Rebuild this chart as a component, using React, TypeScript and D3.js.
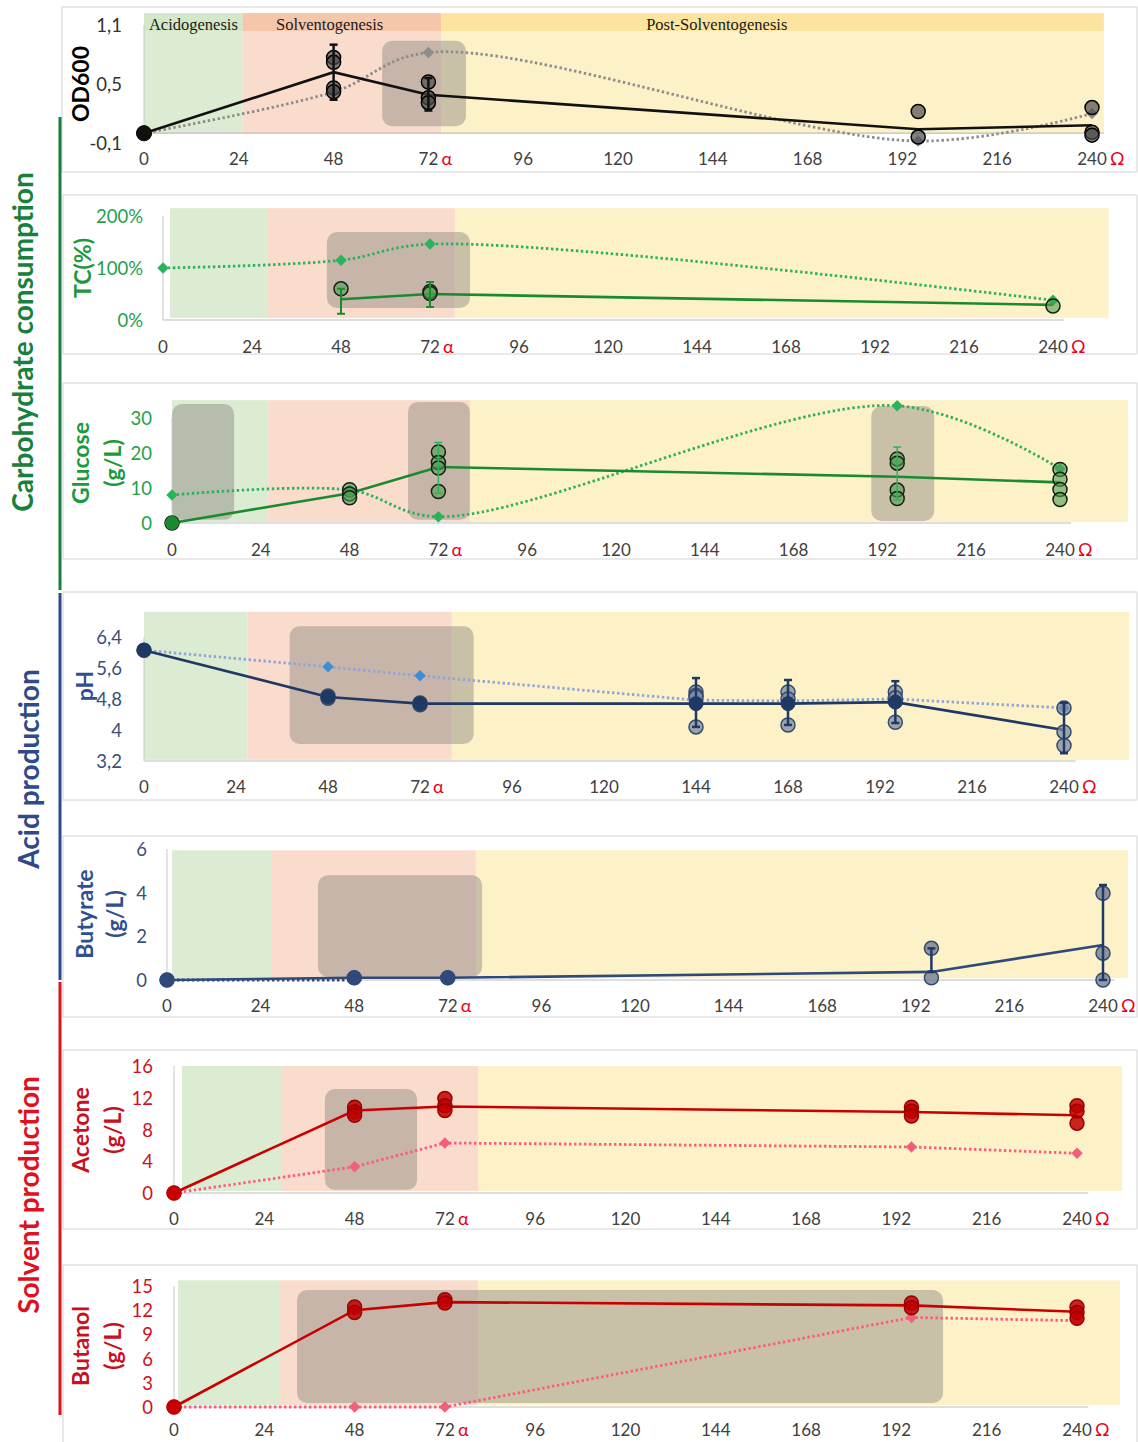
import React from "react";
import * as d3 from "d3";

// ---------------- DATA ----------------
const hourTicks = [0, 24, 48, 72, 96, 120, 144, 168, 192, 216, 240];
const phaseNames = ["Acidogenesis", "Solventogenesis", "Post-Solventogenesis"];
const phaseLabelHours = [12.5, 47, 145];
const groupNames = ["Carbohydrate consumption", "Acid production", "Solvent production"];

// OD600
const odHours = [0, 48, 72, 196, 240];
const odMean = [0, 0.62, 0.39, 0.04, 0.08];
const odRef = [0, 0.42, 0.82, -0.08, 0.2];
const odRepHours = [0, 48, 48, 48, 48, 72, 72, 72, 196, 196, 240, 240, 240];
const odReps = [0, 0.77, 0.72, 0.46, 0.42, 0.52, 0.36, 0.31, 0.22, -0.04, 0.26, 0.01, -0.02];
const odErrHours = [48, 72];
const odErrLow = [0.34, 0.23];
const odErrHigh = [0.9, 0.56];
const odTicks = [-0.1, 0.5, 1.1];

// Total carbohydrate (%)
const tcMeanHours = [48, 72, 240];
const tcMean = [40, 50, 29];
const tcRefHours = [0, 48, 72, 240];
const tcRef = [100, 115, 146, 38];
const tcRepHours = [48, 72, 72, 240];
const tcReps = [60, 55, 51, 27];
const tcErrHours = [48, 72];
const tcErrLow = [12, 25];
const tcErrHigh = [60, 73];
const tcTicks = [0, 100, 200];

// Glucose (g/L)
const glcHours = [0, 48, 72, 196, 240];
const glcMean = [0, 8.5, 16, 13.2, 11.6];
const glcRef = [8, 9.4, 1.8, 33.5, 15.5];
const glcRepHours = [0, 48, 48, 48, 72, 72, 72, 72, 196, 196, 196, 196, 240, 240, 240, 240];
const glcReps = [0, 9.5, 8.3, 7.2, 20.3, 17.3, 15.7, 9, 18.3, 17.1, 9.4, 7, 15.3, 12.5, 9.6, 6.7];
const glcErrHours = [72, 196];
const glcErrLow = [8.5, 6.6];
const glcErrHigh = [23, 21.7];
const glcTicks = [0, 10, 20, 30];

// pH
const phHours = [0, 48, 72, 144, 168, 196, 240];
const phMean = [6.06, 4.85, 4.68, 4.68, 4.68, 4.72, 4.0];
const phRef = [6.06, 5.63, 5.4, 4.77, 4.75, 4.8, 4.57];
const phRepHours = [0, 48, 48, 72, 72, 144, 144, 144, 144, 168, 168, 168, 196, 196, 196, 240, 240, 240];
const phReps = [6.06, 4.88, 4.82, 4.7, 4.65, 4.98, 4.9, 4.85, 4.08, 4.98, 4.8, 4.13, 4.98, 4.83, 4.2, 4.57, 3.95, 3.6];
const phErrHours = [144, 168, 196, 240];
const phErrLow = [4.08, 4.13, 4.18, 3.4];
const phErrHigh = [5.34, 5.29, 5.26, 4.7];
const phTicks = [3.2, 4, 4.8, 5.6, 6.4];

// Butyrate (g/L)
const buHours = [0, 48, 72, 196, 240];
const buMean = [0, 0.1, 0.1, 0.37, 1.6];
const buRefHours = [0, 48];
const buRef = [0, 0];
const buRepHours = [0, 48, 72, 196, 196, 240, 240, 240];
const buReps = [0, 0.1, 0.1, 1.45, 0.1, 3.97, 1.23, 0];
const buErrHours = [196, 240];
const buErrLow = [0.37, 0];
const buErrHigh = [1.45, 4.35];
const buTicks = [0, 2, 4, 6];

// Acetone (g/L)
const acHours = [0, 48, 72, 196, 240];
const acMean = [0, 10.4, 10.9, 10.2, 9.8];
const acRef = [0, 3.3, 6.3, 5.8, 5.0];
const acRepHours = [0, 48, 48, 48, 72, 72, 72, 196, 196, 196, 240, 240, 240];
const acReps = [0, 10.8, 10.2, 9.8, 11.9, 11, 10.4, 10.8, 10.3, 9.7, 11, 10.3, 8.8];
const acTicks = [0, 4, 8, 12, 16];

// Butanol (g/L)
const btHours = [0, 48, 72, 196, 240];
const btMean = [0, 12, 13, 12.6, 11.8];
const btRef = [0, 0, 0, 11.1, 10.7];
const btRepHours = [0, 48, 48, 72, 72, 196, 196, 240, 240, 240];
const btReps = [0, 12.4, 11.7, 13.3, 12.9, 12.9, 12.3, 12.4, 11.7, 11];
const btTicks = [0, 3, 6, 9, 12, 15];

// ---------------- STYLE / LAYOUT ----------------
const FONT = "Lato, 'Open Sans', 'DejaVu Sans', sans-serif";
const SERIF = "'Liberation Serif', 'DejaVu Serif', serif";
const BAND_GREEN = "#dcecd2";
const BAND_SALMON = "#f9dccb";
const BAND_YELLOW = "#fdf1c8";

type Style = {
  mean: string;
  ref: string;
  diamond: string;
  repFill: string;
  repOpacity: number;
  repStroke: string;
  err: string;
  errWidth: number;
  tick: string;
  title: string;
};

type Panel = {
  frame: [number, number, number, number];
  xPx: [number, number];
  yDomain: [number, number];
  yPx: [number, number];
  axisValue: number;
  yTicks: number[];
  fmt: (v: number) => string;
  tickRight: number;
  xLabelY: number;
  title: string[];
  titleX: number[];
  titleY: number;
  bands: [number, number, number, number];
  bandV: [number, number];
  header?: boolean;
  boxes: [number, number, number, number][];
  meanT: number[];
  meanV: number[];
  refT: number[];
  refV: number[];
  smooth: boolean;
  diamonds: boolean;
  repT: number[];
  repV: number[];
  errT: number[];
  errLo: number[];
  errHi: number[];
  meanMarkers: number[];
  meanMarkerR: number;
  s: Style;
};

const comma = (v: number) => String(v).replace(".", ",");
const pct = (v: number) => `${v}%`;
const plain = (v: number) => String(v);

const greenStyle: Style = {
  mean: "#1b8a2e", ref: "#2bb35c", diamond: "#2bb35c", repFill: "#4f9f4f", repOpacity: 0.6,
  repStroke: "#152015", err: "#1b8a2e", errWidth: 2, tick: "#22a14a", title: "#1a9a3a",
};
const navyStyle: Style = {
  mean: "#203864", ref: "#8ea6d8", diamond: "#3e8ed6", repFill: "#7b8aa3", repOpacity: 0.75,
  repStroke: "#344a70", err: "#203864", errWidth: 2.5, tick: "#3b4f7a", title: "#2f4f8f",
};
const redStyle: Style = {
  mean: "#c80000", ref: "#ff5a78", diamond: "#f25f7c", repFill: "#c00000", repOpacity: 0.85,
  repStroke: "#9a0000", err: "#c80000", errWidth: 2, tick: "#d01020", title: "#c8101e",
};

const panels: Panel[] = [
  {
    frame: [62, 7, 1075, 165], xPx: [144, 1092], yDomain: [-0.1, 1.1], yPx: [143, 25], axisValue: 0,
    yTicks: odTicks, fmt: comma, tickRight: 122, xLabelY: 158, title: ["OD600"], titleX: [80], titleY: 84,
    bands: [0, 25, 75.2, 243], bandV: [1.22, 0], header: true, boxes: [[60.3, 81.5, 0.94, 0.07]],
    meanT: odHours, meanV: odMean, refT: odHours, refV: odRef, smooth: true, diamonds: true,
    repT: odRepHours, repV: odReps, errT: odErrHours, errLo: odErrLow, errHi: odErrHigh,
    meanMarkers: [0], meanMarkerR: 7.5,
    s: { mean: "#111", ref: "#8c8c8c", diamond: "#8c8c8c", repFill: "#4d4d4d", repOpacity: 0.7, repStroke: "#000",
      err: "#111", errWidth: 2.5, tick: "#333", title: "#000" },
  },
  {
    frame: [63, 195, 1074, 159], xPx: [163, 1053], yDomain: [0, 200], yPx: [320, 216], axisValue: 0,
    yTicks: tcTicks, fmt: pct, tickRight: 143, xLabelY: 346, title: ["TC(%)"], titleX: [82], titleY: 268,
    bands: [1.9, 28.3, 78.7, 255], bandV: [215, 4], boxes: [[44.2, 82.8, 169, 23]],
    meanT: tcMeanHours, meanV: tcMean, refT: tcRefHours, refV: tcRef, smooth: true, diamonds: true,
    repT: tcRepHours, repV: tcReps, errT: tcErrHours, errLo: tcErrLow, errHi: tcErrHigh,
    meanMarkers: [], meanMarkerR: 0, s: greenStyle,
  },
  {
    frame: [63, 383, 1074, 176], xPx: [172, 1060], yDomain: [0, 30], yPx: [523, 418], axisValue: 0,
    yTicks: glcTicks, fmt: plain, tickRight: 152, xLabelY: 549, title: ["Glucose", "(g/L)"], titleX: [80, 112], titleY: 463,
    bands: [0, 26, 80.5, 258.4], bandV: [35.1, 0.3],
    boxes: [[0, 16.8, 34, 0.9], [63.8, 80.5, 34.6, 0.9], [189, 206, 33.4, 0.6]],
    meanT: glcHours, meanV: glcMean, refT: glcHours, refV: glcRef, smooth: true, diamonds: true,
    repT: glcRepHours, repV: glcReps, errT: glcErrHours, errLo: glcErrLow, errHi: glcErrHigh,
    meanMarkers: [0], meanMarkerR: 6.5, s: { ...greenStyle, err: "#2bb35c", errWidth: 1.5 },
  },
  {
    frame: [63, 592, 1074, 208], xPx: [144, 1064], yDomain: [3.2, 6.4], yPx: [761, 637], axisValue: 3.2,
    yTicks: phTicks, fmt: comma, tickRight: 122, xLabelY: 786, title: ["pH"], titleX: [84], titleY: 686,
    bands: [0, 27, 80.3, 257], bandV: [7.05, 3.23], boxes: [[38, 86, 6.68, 3.64]],
    meanT: phHours, meanV: phMean, refT: phHours, refV: phRef, smooth: false, diamonds: true,
    repT: phRepHours, repV: phReps, errT: phErrHours, errLo: phErrLow, errHi: phErrHigh,
    meanMarkers: [0, 48, 72, 144, 168, 196], meanMarkerR: 7, s: navyStyle,
  },
  {
    frame: [63, 836, 1074, 181], xPx: [167, 1103], yDomain: [0, 6], yPx: [980, 849], axisValue: 0,
    yTicks: buTicks, fmt: plain, tickRight: 147, xLabelY: 1005, title: ["Butyrate", "(g/L)"], titleX: [84, 114], titleY: 914,
    bands: [1.3, 26.9, 79.2, 246.4], bandV: [5.94, 0.09], boxes: [[38.7, 80.8, 4.8, 0.14]],
    meanT: buHours, meanV: buMean, refT: buRefHours, refV: buRef, smooth: false, diamonds: false,
    repT: buRepHours, repV: buReps, errT: buErrHours, errLo: buErrLow, errHi: buErrHigh,
    meanMarkers: [0, 48, 72], meanMarkerR: 7,
    s: { ...navyStyle, mean: "#2f4a7a", ref: "#2f4a7a", repFill: "#5d6c88", repOpacity: 0.7 },
  },
  {
    frame: [63, 1050, 1074, 179], xPx: [174, 1077], yDomain: [0, 16], yPx: [1193, 1066], axisValue: 0,
    yTicks: acTicks, fmt: plain, tickRight: 153, xLabelY: 1218, title: ["Acetone", "(g/L)"], titleX: [80, 112], titleY: 1130,
    bands: [2.1, 28.7, 80.8, 252], bandV: [16, 0.25], boxes: [[40.1, 64.6, 13.1, 0.4]],
    meanT: acHours, meanV: acMean, refT: acHours, refV: acRef, smooth: false, diamonds: true,
    repT: acRepHours, repV: acReps, errT: [], errLo: [], errHi: [],
    meanMarkers: [0], meanMarkerR: 7, s: redStyle,
  },
  {
    frame: [63, 1265, 1074, 180], xPx: [174, 1077], yDomain: [0, 15], yPx: [1407, 1286], axisValue: 0,
    yTicks: btTicks, fmt: plain, tickRight: 153, xLabelY: 1429, title: ["Butanol", "(g/L)"], titleX: [80, 112], titleY: 1346,
    bands: [1.1, 28.2, 80.8, 251.4], bandV: [15.7, 0.25], boxes: [[32.7, 204.4, 14.5, 0.5]],
    meanT: btHours, meanV: btMean, refT: btHours, refV: btRef, smooth: false, diamonds: true,
    repT: btRepHours, repV: btReps, errT: [], errLo: [], errHi: [],
    meanMarkers: [0], meanMarkerR: 7, s: redStyle,
  },
];

const groups = [
  { name: groupNames[0], color: "#17803d", y0: 117, y1: 590, cx: 22, cy: 342 },
  { name: groupNames[1], color: "#2e4a8a", y0: 593, y1: 980, cx: 28, cy: 769 },
  { name: groupNames[2], color: "#e0101e", y0: 982, y1: 1415, cx: 28, cy: 1195 },
];

function PanelView({ p }: { p: Panel }) {
  const x = d3.scaleLinear().domain([0, 240]).range(p.xPx);
  const y = d3.scaleLinear().domain(p.yDomain).range(p.yPx);
  const axY = y(p.axisValue);
  const s = p.s;
  const lineGen = (curve: d3.CurveFactory) =>
    d3.line<[number, number]>().x((d) => x(d[0])).y((d) => y(d[1])).curve(curve);
  const refPts: [number, number][] = p.refT.map((t, i) => [t, p.refV[i]]);
  const meanPts: [number, number][] = p.meanT.map((t, i) => [t, p.meanV[i]]);
  const refPath = lineGen(p.smooth ? d3.curveCatmullRom.alpha(0.5) : d3.curveLinear)(refPts) || "";
  const meanPath = lineGen(d3.curveLinear)(meanPts) || "";
  const diamond = d3.symbol(d3.symbolSquare, 66)() || "";
  const [g0, g1, s1, y1] = p.bands;
  const bTop = y(p.bandV[0]);
  const bBot = y(p.bandV[1]);
  const [fx, fy, fw, fh] = p.frame;
  const headerBottom = y(1.04);

  return (
    <g>
      <rect x={fx} y={fy} width={fw} height={fh} fill="#fff" stroke="#d4d4d4" strokeWidth={1} />
      <rect x={x(g0)} y={bTop} width={x(g1) - x(g0)} height={bBot - bTop} fill={BAND_GREEN} />
      <rect x={x(g1)} y={bTop} width={x(s1) - x(g1)} height={bBot - bTop} fill={BAND_SALMON} />
      <rect x={x(s1)} y={bTop} width={x(y1) - x(s1)} height={bBot - bTop} fill={BAND_YELLOW} />
      {p.header && (
        <g>
          <rect x={x(g0)} y={bTop} width={x(g1) - x(g0)} height={headerBottom - bTop} fill="#d3e8c9" />
          <rect x={x(g1)} y={bTop} width={x(s1) - x(g1)} height={headerBottom - bTop} fill="#f6c6ab" />
          <rect x={x(s1)} y={bTop} width={x(y1) - x(s1)} height={headerBottom - bTop} fill="#fde49e" />
          {phaseNames.map((n, i) => (
            <text key={n} x={x(phaseLabelHours[i])} y={(bTop + headerBottom) / 2 + 2} textAnchor="middle"
              dominantBaseline="central" fontFamily={SERIF} fontSize={16.5} fill="#1a1a1a">{n}</text>
          ))}
        </g>
      )}
      {p.boxes.map((b, i) => (
        <rect key={i} x={x(b[0])} y={y(b[2])} width={x(b[1]) - x(b[0])} height={y(b[3]) - y(b[2])}
          rx={10} fill="#8a8580" opacity={0.45} />
      ))}
      {/* axes */}
      <line x1={x(0)} x2={x(243)} y1={axY} y2={axY} stroke="#bdbdbd" strokeWidth={1.2} />
      <line x1={x(0)} x2={x(0)} y1={y(p.yDomain[1])} y2={y(p.yDomain[0])} stroke="#c8c8c8" strokeWidth={1} />
      {p.yTicks.map((t) => (
        <text key={t} x={p.tickRight} y={y(t)} textAnchor="end" dominantBaseline="central"
          fontFamily={FONT} fontSize={18.5} fill={s.tick}>{p.fmt(t)}</text>
      ))}
      {hourTicks.map((t) => {
        const lab = String(t);
        const extra = t === 72 ? "α" : t === 240 ? "Ω" : "";
        return (
          <g key={t}>
            <text x={x(t)} y={p.xLabelY} textAnchor="middle" dominantBaseline="central"
              fontFamily={FONT} fontSize={17} fill="#404040">{lab}</text>
            {extra && (
              <text x={x(t) + lab.length * 5 + 3} y={p.xLabelY} textAnchor="start" dominantBaseline="central"
                fontFamily={FONT} fontSize={18} fill="#e8001c">{extra}</text>
            )}
          </g>
        );
      })}
      {/* title */}
      {p.title.map((tl, i) => (
        <text key={tl} transform={`translate(${p.titleX[i]},${p.titleY}) rotate(-90)`} textAnchor="middle"
          dominantBaseline="central" fontFamily={FONT} fontWeight={700} fontSize={23} fill={s.title}>{tl}</text>
      ))}
      {/* reference (dotted) series */}
      <path d={refPath} fill="none" stroke={s.ref} strokeWidth={2.8} strokeDasharray="2.4 2.6" />
      {p.diamonds && refPts.map((d, i) => (
        <path key={i} d={diamond} transform={`translate(${x(d[0])},${y(d[1])}) rotate(45)`} fill={s.diamond} />
      ))}
      {/* mean line */}
      <path d={meanPath} fill="none" stroke={s.mean} strokeWidth={2.6} />
      {/* replicates */}
      {p.repT.map((t, i) => (
        <circle key={i} cx={x(t)} cy={y(p.repV[i])} r={7} fill={s.repFill} fillOpacity={s.repOpacity}
          stroke={s.repStroke} strokeWidth={1.5} />
      ))}
      {/* error bars */}
      {p.errT.map((t, i) => (
        <g key={i} stroke={s.err} strokeWidth={s.errWidth}>
          <line x1={x(t)} x2={x(t)} y1={y(p.errLo[i])} y2={y(p.errHi[i])} />
          <line x1={x(t) - 4} x2={x(t) + 4} y1={y(p.errLo[i])} y2={y(p.errLo[i])} />
          <line x1={x(t) - 4} x2={x(t) + 4} y1={y(p.errHi[i])} y2={y(p.errHi[i])} />
        </g>
      ))}
      {p.meanMarkers.map((t) => {
        const idx = p.meanT.indexOf(t);
        return <circle key={t} cx={x(t)} cy={y(p.meanV[idx])} r={p.meanMarkerR} fill={s.mean} stroke={s.mean} />;
      })}
    </g>
  );
}

export default function App() {
  return (
    <svg width={1138} height={1442} viewBox="0 0 1138 1442"
      style={{ position: "absolute", left: 0, top: 0, background: "#fff" }}>
      <rect x={0} y={0} width={1138} height={1442} fill="#fff" />
      {panels.map((p, i) => <PanelView key={i} p={p} />)}
      {groups.map((g) => (
        <g key={g.name}>
          <line x1={60} x2={60} y1={g.y0} y2={g.y1} stroke={g.color} strokeWidth={3} />
          <text transform={`translate(${g.cx},${g.cy}) rotate(-90)`} textAnchor="middle" dominantBaseline="central"
            fontFamily={FONT} fontWeight={700} fontSize={28} fill={g.color}>{g.name}</text>
        </g>
      ))}
    </svg>
  );
}
